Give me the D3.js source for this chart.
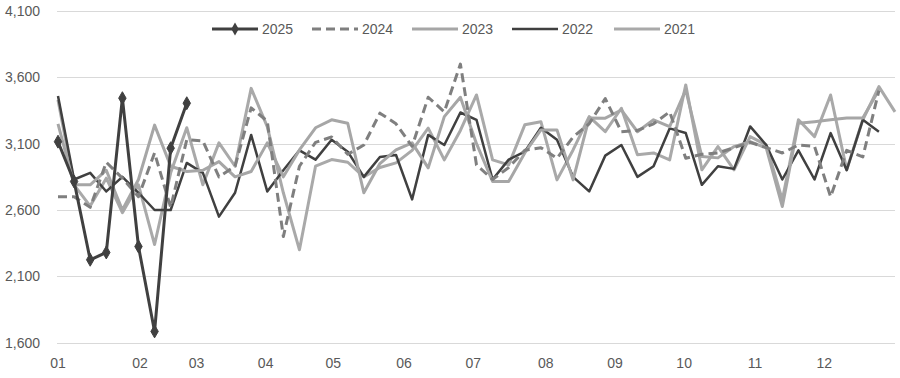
<!DOCTYPE html>
<html>
<head>
<meta charset="utf-8">
<script src="https://cdn.jsdelivr.net/npm/d3@7"></script>
<style>
  body { margin: 0; background: #fff; }
  svg { display: block; font-family: "Liberation Sans", Arial, sans-serif; }
</style>
</head>
<body>
<div id="chart"></div>
<script>
// Weekly values, one array per year (index = week of year)
const s2025 = [3115, 2815, 2225, 2280, 3443, 2325, 1685, 3066, 3405];
const s2024 = [2700, 2700, 2620, 2960, 2840, 2700, 3030, 2620, 3130, 3120, 2850, 2930, 3370, 3270, 2400, 2930, 3110, 3150, 3020, 3090,
               3330, 3250, 3080, 3450, 3340, 3700, 2940, 2830, 2920, 3050, 3070, 2990, 3150, 3250, 3440, 3190, 3200, 3250, 3340, 2990,
               3020, 3030, 3070, 3110, 3070, 3030, 3090, 3080, 2700, 3050, 3000, 3500];
const s2023 = [3250, 2790, 2790, 2900, 2600, 2830, 3240, 2930, 2890, 2900, 2965, 2850, 2890, 3106, 2850, 3053, 3220, 3280, 3254, 2730,
               2950, 3053, 3106, 2918, 3304, 3450, 3100, 2815, 2815, 3030, 3204, 3204, 2827, 3294, 3292, 3354, 3190, 3280, 3229, 3505,
               3003, 2993, 3078, 3116, 3068, 2626, 3254, 3266, 3280, 3294, 3294, 3505];
const s2022 = [3460, 2830, 2880, 2740, 2850, 2730, 2600, 2600, 2955, 2880, 2550, 2730, 3166, 2740, 2900, 3050, 2980, 3130, 3040, 2850,
               3000, 3015, 2680, 3166, 3090, 3335, 3280, 2830, 2980, 3040, 3220, 3130, 2850, 2740, 3010, 3090, 2850, 2930, 3215, 3180,
               2790, 2930, 2910, 3230, 3090, 2830, 3050, 2830, 3180, 2900, 3280, 3190];
const s2021 = [3430, 2790, 2630, 2840, 2580, 2790, 2340, 2880, 3220, 2790, 3106, 2930, 3517, 3229, 2730, 2300, 2930, 2980, 2960, 2850,
               2920, 2955, 3050, 3217, 2978, 3200, 3467, 2978, 2940, 3242, 3266, 2827, 3053, 3304, 3191, 3367, 3016, 3030, 2978, 3543,
               2903, 3078, 2903, 3153, 3091, 2677, 3280, 3153, 3467, 2903, 3280, 3530, 3340];

const years = ['2025', '2024', '2023', '2022', '2021'];
const monthLabels = ['01', '02', '03', '04', '05', '06', '07', '08', '09', '10', '11', '12'];
// week position where each month label sits
const monthWeeks = [0, 5.1, 8.6, 12.9, 17.1, 21.5, 25.8, 30.3, 34.6, 38.9, 43.3, 47.6];
const yTicks = [1600, 2100, 2600, 3100, 3600, 4100];

const series = [
    { name: '2021', values: s2021, color: '#a9a9a9', width: 3, dash: null, marker: false },
    { name: '2022', values: s2022, color: '#404040', width: 2.5, dash: null, marker: false },
    { name: '2023', values: s2023, color: '#a6a6a6', width: 3, dash: null, marker: false },
    { name: '2024', values: s2024, color: '#7f7f7f', width: 3, dash: '9,5', marker: false },
    { name: '2025', values: s2025, color: '#404040', width: 3, dash: null, marker: true }
];

const width = 900, height = 378;
const svg = d3.select('#chart')
    .append('svg')
    .attr('width', width)
    .attr('height', height);

const x = d3.scaleLinear().domain([0, 52]).range([58, 895]);
const y = d3.scaleLinear().domain([1600, 4100]).range([342.7, 11]);

// Gridlines
svg.append('g')
    .selectAll('line')
    .data(yTicks)
    .enter()
    .append('line')
    .attr('x1', 57)
    .attr('x2', 895)
    .attr('y1', d => Math.round(y(d)) + 0.5)
    .attr('y2', d => Math.round(y(d)) + 0.5)
    .style('stroke', '#d9d9d9')
    .style('stroke-width', '1px');

// Y labels
svg.append('g')
    .selectAll('text')
    .data(yTicks)
    .enter()
    .append('text')
    .attr('x', 40)
    .attr('y', d => y(d))
    .attr('dy', '0.35em')
    .attr('text-anchor', 'end')
    .style('font-size', '14px')
    .style('fill', '#595959')
    .text(d3.format(','));

// X labels
svg.append('g')
    .selectAll('text')
    .data(monthLabels)
    .enter()
    .append('text')
    .attr('x', (d, i) => x(monthWeeks[i]))
    .attr('y', 363)
    .attr('dy', '0.35em')
    .attr('text-anchor', 'middle')
    .style('font-size', '14px')
    .style('fill', '#595959')
    .text(d => d);

const line = d3.line()
    .x((d, i) => x(i))
    .y(d => y(d));

const diamond = d3.symbol().type(d3.symbolDiamond).size(48);

series.forEach(s => {
    svg.append('path')
        .datum(s.values)
        .attr('d', line)
        .style('fill', 'none')
        .style('stroke', s.color)
        .style('stroke-width', s.width)
        .style('stroke-linejoin', 'round')
        .style('stroke-dasharray', s.dash);

    if (s.marker) {
        svg.append('g')
            .selectAll('path')
            .data(s.values)
            .enter()
            .append('path')
            .attr('d', diamond)
            .attr('transform', (d, i) => `translate(${x(i)},${y(d)})`)
            .style('fill', s.color)
            .style('stroke', s.color);
    }
});

// Legend
const legendX = [212, 312, 412, 512, 614];
const legend = svg.append('g')
    .selectAll('g')
    .data(years)
    .enter()
    .append('g')
    .attr('transform', (d, i) => `translate(${legendX[i]},29)`);

legend.append('line')
    .attr('x1', 0)
    .attr('x2', 46)
    .style('stroke', d => series.find(s => s.name === d).color)
    .style('stroke-width', d => series.find(s => s.name === d).width)
    .style('stroke-dasharray', d => series.find(s => s.name === d).dash);

legend.filter(d => series.find(s => s.name === d).marker)
    .append('path')
    .attr('d', diamond)
    .attr('transform', 'translate(23,0)')
    .style('fill', '#404040');

legend.append('text')
    .attr('x', 50)
    .attr('dy', '0.35em')
    .style('font-size', '14px')
    .style('fill', '#595959')
    .text(d => d);
</script>
</body>
</html>
